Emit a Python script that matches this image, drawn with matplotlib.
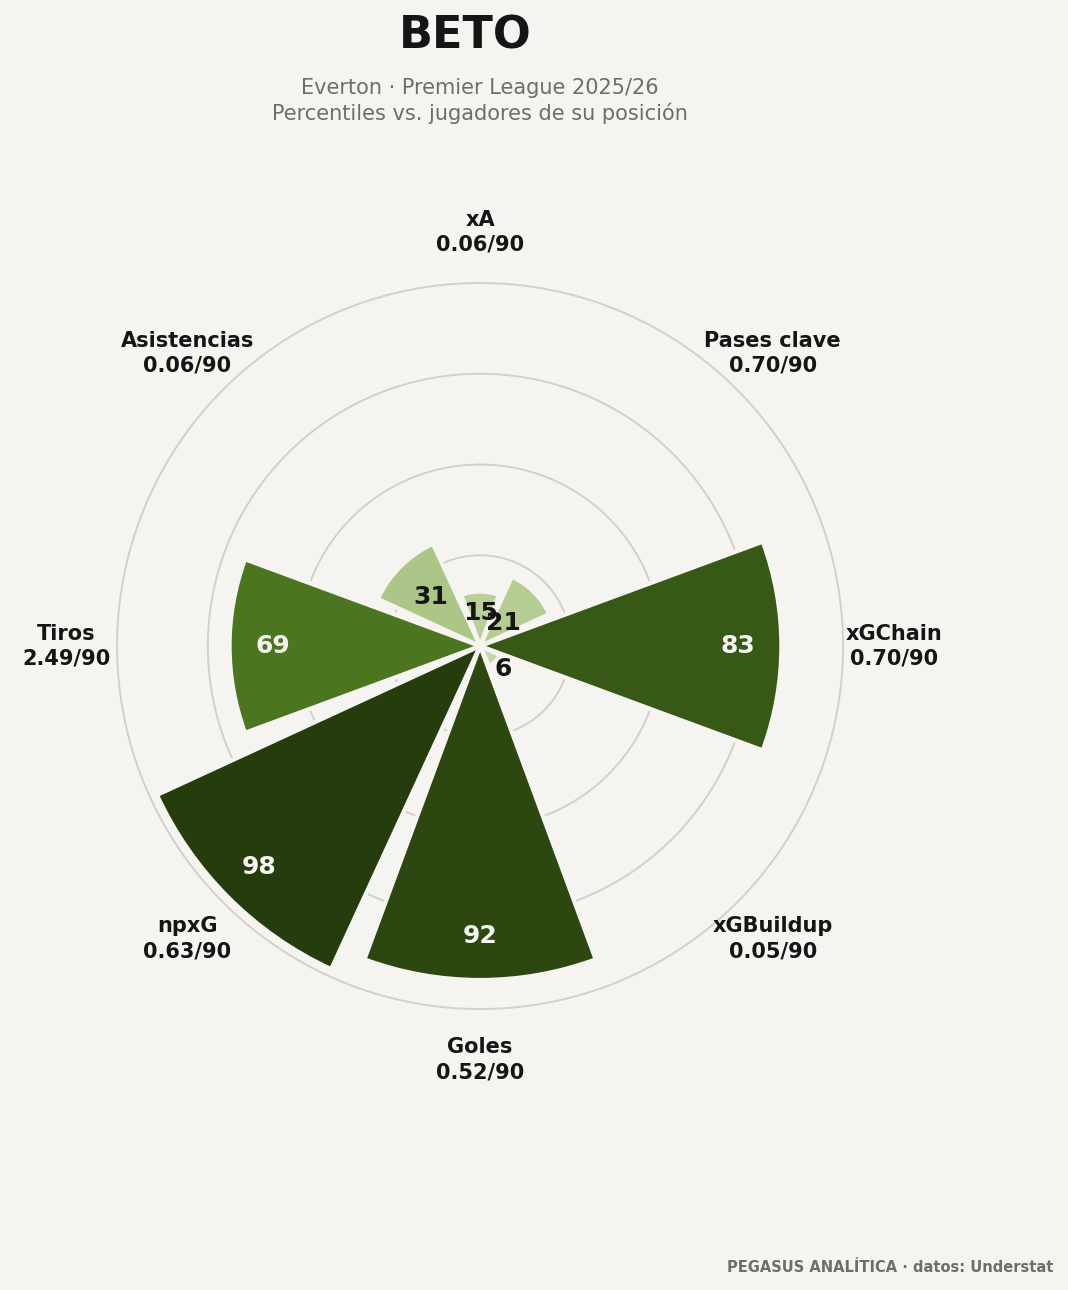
import numpy as np
import matplotlib.pyplot as plt
from matplotlib.colors import LinearSegmentedColormap

# Datos
metricas = ['xA', 'Pases clave', 'xGChain', 'xGBuildup', 'Goles', 'npxG', 'Tiros', 'Asistencias']
por90 = ['0.06/90', '0.70/90', '0.70/90', '0.05/90', '0.52/90', '0.63/90', '2.49/90', '0.06/90']
percentiles = [15, 21, 83, 6, 92, 98, 69, 31]

bg = '#f5f4f0'
cmap = LinearSegmentedColormap.from_list('verdes', ['#c8d8aa', '#aac584', '#4e7a1f', '#22380b'])

fig = plt.figure(figsize=(10.68, 12.9), dpi=100, facecolor=bg)
ax = fig.add_axes([0.1096, 0.2178, 0.6798, 0.5628], projection='polar')
ax.set_facecolor(bg)
ax.set_theta_zero_location('N')
ax.set_theta_direction(-1)

n = len(metricas)
ang = np.arange(n) * 2 * np.pi / n
colores = [cmap(p / 100) for p in percentiles]
ax.bar(ang, percentiles, width=2 * np.pi / n * 0.9, color=colores,
       edgecolor=bg, linewidth=3, zorder=3)

ax.set_ylim(0, 100)
ax.set_rticks([25, 50, 75, 100])
ax.set_yticklabels([])
ax.set_xticks([])
ax.grid(False)
for r in [25, 50, 75, 100]:
    t = np.linspace(0, 2 * np.pi, 400)
    ax.plot(t, np.full_like(t, r), color='#d3d0ca', lw=1.4, zorder=1, clip_on=False)
ax.spines['polar'].set_visible(False)

for a, m, v90, p in zip(ang, metricas, por90, percentiles):
    ax.text(a, 114, f'{m}\n{v90}', ha='center', va='center', fontsize=15,
            fontweight='bold', color='#151515', linespacing=1.3, clip_on=False)
    col = '#f5f4f0' if p > 50 else '#151515'
    ax.text(a, max(p - 12, 9), str(p), ha='center', va='center', fontsize=18,
            fontweight='bold', color=col, zorder=5)

fig.text(465 / 1068, 1 - 36 / 1290, 'BETO', ha='center', va='center',
         fontsize=32, fontweight='bold', color='#151515')
fig.text(480 / 1068, 1 - 101 / 1290,
         'Everton · Premier League 2025/26\nPercentiles vs. jugadores de su posición',
         ha='center', va='center', fontsize=15, color='#6e6e68', linespacing=1.2)
fig.text(1053 / 1068, 1 - 1268 / 1290, 'PEGASUS ANALÍTICA · datos: Understat',
         ha='right', va='center', fontsize=10.5, fontweight='bold', color='#6e6e68')

fig.savefig('out.png', dpi=100, facecolor=bg)
